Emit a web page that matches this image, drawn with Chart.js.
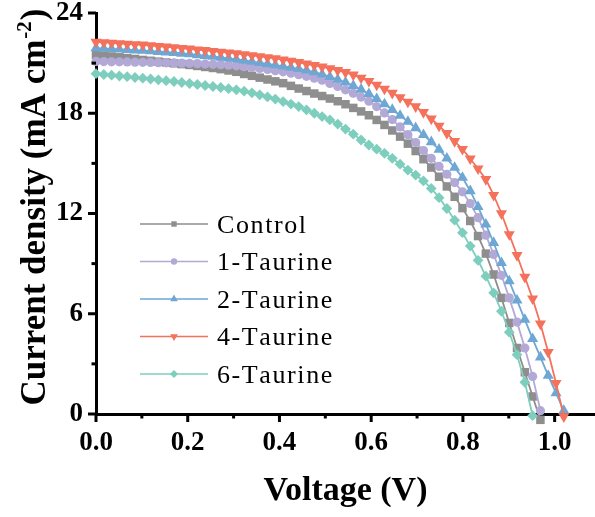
<!DOCTYPE html>
<html><head><meta charset="utf-8">
<script src="https://cdn.jsdelivr.net/npm/chart.js@4.4.1/dist/chart.umd.min.js"></script>
<style>html,body{margin:0;padding:0;background:#fff;}canvas{display:block;}</style>
</head><body>
<canvas id="c" width="595" height="517"></canvas>
<script>
// ---------- data ----------
const seriesNames = ['Control', '1-Taurine', '2-Taurine', '4-Taurine', '6-Taurine'];
const voltage = [0, 0.017, 0.034, 0.051, 0.068, 0.085, 0.102, 0.119, 0.136, 0.153,
  0.17, 0.187, 0.204, 0.221, 0.238, 0.255, 0.272, 0.289, 0.306, 0.323,
  0.34, 0.357, 0.374, 0.391, 0.408, 0.425, 0.442, 0.459, 0.476, 0.493,
  0.51, 0.527, 0.544, 0.561, 0.578, 0.595, 0.612, 0.629, 0.646, 0.663,
  0.68, 0.697, 0.714, 0.731, 0.748, 0.765, 0.782, 0.799, 0.816, 0.833,
  0.85, 0.867, 0.884, 0.901, 0.918, 0.935, 0.952, 0.969, 0.986, 1.003, 1.02];
const control = [21.50, 21.45, 21.40, 21.35, 21.30, 21.25, 21.19, 21.14, 21.09, 21.04,
  20.99, 20.94, 20.89, 20.83, 20.77, 20.71, 20.64, 20.56, 20.48, 20.35,
  20.24, 20.13, 20.02, 19.91, 19.80, 19.64, 19.48, 19.33, 19.18, 19.03,
  18.88, 18.72, 18.54, 18.32, 18.11, 17.88, 17.60, 17.30, 16.97, 16.60,
  16.18, 15.74, 15.25, 14.75, 14.20, 13.62, 13.00, 12.32, 11.55, 10.65,
  9.60, 8.35, 6.95, 5.45, 3.95, 2.50, 1.05, -0.35];
const taurine1 = [21.10, 21.09, 21.08, 21.08, 21.07, 21.06, 21.05, 21.04, 21.03, 21.02,
  21.01, 21.00, 20.99, 20.97, 20.95, 20.93, 20.91, 20.88, 20.84, 20.79,
  20.74, 20.68, 20.62, 20.55, 20.48, 20.40, 20.31, 20.21, 20.10, 19.98,
  19.78, 19.60, 19.40, 19.20, 18.97, 18.72, 18.40, 18.02, 17.62, 17.18,
  16.72, 16.25, 15.77, 15.30, 14.82, 14.35, 13.85, 13.30, 12.60, 11.75,
  10.70, 9.55, 8.30, 6.95, 5.50, 3.95, 2.25, 0.20];
const taurine2 = [21.90, 21.87, 21.85, 21.82, 21.80, 21.77, 21.75, 21.72, 21.68, 21.65,
  21.62, 21.58, 21.54, 21.49, 21.44, 21.39, 21.34, 21.29, 21.23, 21.16,
  21.09, 21.02, 20.95, 20.88, 20.81, 20.74, 20.66, 20.57, 20.46, 20.33,
  20.18, 20.02, 19.85, 19.65, 19.42, 19.16, 18.86, 18.55, 18.21, 17.86,
  17.50, 17.12, 16.71, 16.28, 15.83, 15.30, 14.75, 14.15, 13.35, 12.40,
  11.35, 10.25, 9.05, 7.95, 6.80, 5.65, 4.50, 3.40, 2.30, 1.25, 0.20];
const taurine4 = [22.27, 22.24, 22.21, 22.18, 22.15, 22.12, 22.10, 22.06, 22.02, 21.98,
  21.94, 21.90, 21.86, 21.81, 21.77, 21.72, 21.67, 21.63, 21.58, 21.52,
  21.46, 21.40, 21.34, 21.28, 21.21, 21.13, 21.05, 20.96, 20.87, 20.78,
  20.68, 20.57, 20.45, 20.30, 20.12, 19.92, 19.70, 19.46, 19.21, 18.95,
  18.68, 18.40, 18.06, 17.67, 17.24, 16.80, 16.32, 15.85, 15.28, 14.68,
  14.05, 13.10, 12.00, 10.75, 9.50, 8.20, 6.90, 5.40, 3.70, 1.85, -0.15];
const taurine6 = [20.37, 20.32, 20.28, 20.23, 20.19, 20.14, 20.10, 20.05, 20.00, 19.95,
  19.90, 19.84, 19.78, 19.72, 19.66, 19.60, 19.54, 19.47, 19.40, 19.32,
  19.22, 19.10, 18.98, 18.85, 18.70, 18.55, 18.40, 18.20, 18.00, 17.80,
  17.60, 17.35, 17.05, 16.75, 16.40, 16.10, 15.85, 15.60, 15.30, 14.95,
  14.60, 14.30, 13.95, 13.50, 12.95, 12.30, 11.60, 10.85, 10.05, 9.20,
  8.25, 7.25, 6.15, 4.90, 3.55, 1.90, -0.10];
const xTickValues = [0, 0.2, 0.4, 0.6, 0.8, 1.0];
const xMinorTicks = [0.1, 0.3, 0.5, 0.7, 0.9];
const yTickValues = [0, 6, 12, 18, 24];
const yMinorTicks = [3, 9, 15, 21];
const xTitle = 'Voltage (V)';
const yTitleMain = 'Current density (mA cm';
const yTitleSup = '-2';
const yTitleEnd = ')';

// ---------- styles ----------
const SERIF = "'Liberation Serif', 'Times New Roman', serif";
const seriesValues = [control, taurine1, taurine2, taurine4, taurine6];
const styles = [
  {color: '#8e8e8e', point: 'rect',     r: 6,   rot: 0,   order: 5, lr: 3.8},
  {color: '#b3a9d7', point: 'circle',   r: 4.6, rot: 0,   order: 4, lr: 3.2},
  {color: '#6fa7d4', point: 'triangle', r: 6.4, rot: 0,   order: 3, lr: 4.4},
  {color: '#f4715c', point: 'triangle', r: 6.4, rot: 180, order: 2, lr: 4.4},
  {color: '#7ecebe', point: 'rectRot',  r: 5.4, rot: 0,   order: 1, lr: 4.0}
];

const datasets = seriesNames.map((name, i) => ({
  label: name,
  data: seriesValues[i].map((j, k) => ({x: voltage[k], y: j})),
  borderColor: styles[i].color,
  backgroundColor: styles[i].color,
  borderWidth: 1.8,
  pointStyle: styles[i].point,
  pointRadius: styles[i].r,
  pointRotation: styles[i].rot,
  pointBackgroundColor: styles[i].color,
  pointBorderColor: styles[i].color,
  pointBorderWidth: 0,
  tension: 0,
  clip: false,
  order: styles[i].order
}));

function drawMarker(ctx, type, x, y, r, rot) {
  ctx.beginPath();
  if (type === 'circle') {
    ctx.arc(x, y, r, 0, Math.PI * 2);
  } else if (type === 'rect') {
    const s = r * Math.SQRT1_2;
    ctx.rect(x - s, y - s, 2 * s, 2 * s);
  } else if (type === 'rectRot') {
    ctx.moveTo(x, y - r); ctx.lineTo(x + r, y); ctx.lineTo(x, y + r); ctx.lineTo(x - r, y);
  } else if (type === 'triangle') {
    const a = rot * Math.PI / 180;
    for (let k = 0; k < 3; k++) {
      const ang = a - Math.PI / 2 + k * 2 * Math.PI / 3;
      const px = x + Math.cos(ang) * r, py = y + Math.sin(ang) * r;
      if (k === 0) ctx.moveTo(px, py); else ctx.lineTo(px, py);
    }
  }
  ctx.closePath();
  ctx.fill();
}

function spacedText(ctx, text, x, y, spacing) {
  let cx = x;
  for (const ch of text) {
    ctx.fillText(ch, cx, y);
    cx += ctx.measureText(ch).width + spacing;
  }
}

function zeroPadding(s) {
  s.paddingTop = 0; s.paddingBottom = 0; s.paddingLeft = 0; s.paddingRight = 0;
}

const extras = {
  id: 'extras',
  afterDraw(chart) {
    const ctx = chart.ctx, xs = chart.scales.x, ys = chart.scales.y, a = chart.chartArea;
    ctx.save();
    ctx.strokeStyle = '#000';
    ctx.lineWidth = 3;
    ctx.lineCap = 'butt';
    const seg = (x1, y1, x2, y2) => { ctx.beginPath(); ctx.moveTo(x1, y1); ctx.lineTo(x2, y2); ctx.stroke(); };
    xTickValues.forEach(v => { const p = xs.getPixelForValue(v); seg(p, a.bottom, p, a.bottom + 8); });
    xMinorTicks.forEach(v => { const p = xs.getPixelForValue(v); seg(p, a.bottom, p, a.bottom + 4.5); });
    yTickValues.forEach(v => { const p = ys.getPixelForValue(v); seg(a.left, p, a.left - 8, p); });
    yMinorTicks.forEach(v => { const p = ys.getPixelForValue(v); seg(a.left, p, a.left - 4.5, p); });

    // y title with superscript
    ctx.fillStyle = '#000';
    ctx.translate(45, 208);
    ctx.rotate(-Math.PI / 2);
    const f1 = 'bold 35px ' + SERIF, f2 = 'bold 21px ' + SERIF;
    ctx.font = f1;
    const w1 = ctx.measureText(yTitleMain).width, w3 = ctx.measureText(yTitleEnd).width;
    ctx.font = f2;
    const w2 = ctx.measureText(yTitleSup).width;
    const x0 = -(w1 + w2 + w3) / 2;
    ctx.textAlign = 'left';
    ctx.textBaseline = 'alphabetic';
    ctx.font = f1; ctx.fillText(yTitleMain, x0, 0);
    ctx.font = f2; ctx.fillText(yTitleSup, x0 + w1 + 1, -14);
    ctx.font = f1; ctx.fillText(yTitleEnd, x0 + w1 + w2 + 2, 0);
    ctx.restore();

    // legend
    ctx.save();
    ctx.font = '26px ' + SERIF;
    ctx.textAlign = 'left';
    ctx.textBaseline = 'alphabetic';
    seriesNames.forEach((name, i) => {
      const y = 224 + i * 37.5;
      const st = styles[i];
      ctx.strokeStyle = st.color;
      ctx.fillStyle = st.color;
      ctx.lineWidth = 1.6;
      ctx.beginPath(); ctx.moveTo(140, y); ctx.lineTo(208, y); ctx.stroke();
      drawMarker(ctx, st.point, 174, y, st.lr, st.rot);
      ctx.fillStyle = '#000';
      spacedText(ctx, name, 217, y + 8.5, 1.6);
    });
    ctx.restore();
  }
};

new Chart(document.getElementById('c'), {
  type: 'line',
  data: {datasets},
  options: {
    responsive: false,
    devicePixelRatio: 1,
    animation: false,
    layout: {autoPadding: false, padding: {top: 13, right: 0, bottom: 0, left: 0}},
    plugins: {legend: {display: false}, tooltip: {enabled: false}},
    scales: {
      x: {
        type: 'linear', min: 0, max: 1.088,
        afterBuildTicks: s => { s.ticks = xTickValues.map(v => ({value: v})); },
        afterFit: s => { s.height = 103; zeroPadding(s); },
        grid: {display: false, drawTicks: false},
        border: {display: true, color: '#000', width: 3},
        ticks: {
          font: {family: SERIF, size: 27, weight: 'bold'}, color: '#000',
          padding: 13, maxRotation: 0, autoSkip: false, includeBounds: false,
          callback: v => Number(v).toFixed(1)
        },
        title: {display: true, text: xTitle, color: '#000',
          font: {family: SERIF, size: 34, weight: 'bold'}, padding: {top: 0, bottom: 5}}
      },
      y: {
        type: 'linear', min: 0, max: 24,
        afterBuildTicks: s => { s.ticks = yTickValues.map(v => ({value: v})); },
        afterFit: s => { s.width = 96; zeroPadding(s); },
        grid: {display: false, drawTicks: false},
        border: {display: true, color: '#000', width: 3},
        ticks: {
          font: {family: SERIF, size: 27, weight: 'bold'}, color: '#000',
          padding: 13, autoSkip: false, includeBounds: false,
          callback: v => String(v)
        }
      }
    }
  },
  plugins: [extras]
});
</script>
</body></html>
